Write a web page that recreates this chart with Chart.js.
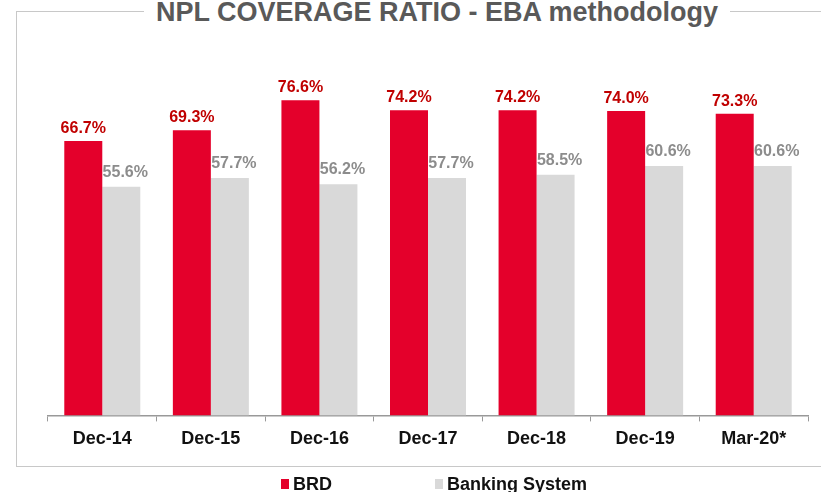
<!DOCTYPE html>
<html>
<head>
<meta charset="utf-8">
<script src="https://cdn.jsdelivr.net/npm/chart.js@4.4.1/dist/chart.umd.min.js"></script>
<style>
  html, body { margin: 0; padding: 0; background: #fff; }
  .wrap { position: relative; width: 821px; height: 492px; overflow: hidden; font-family: Arial, "Liberation Sans", sans-serif; }
  .frame { position: absolute; left: 16px; top: 11px; width: 830px; height: 456px; border: 1.5px solid #c8c8c8; box-sizing: border-box; }
  .title { position: absolute; top: -4px; left: 0; width: 874px; text-align: center; line-height: 32px; }
  .title span { background: #fff; padding: 0 12px; font-size: 27px; font-weight: bold; color: #595959; }
  canvas { position: absolute; left: 0; top: 0; }
  .legend { position: absolute; top: 474px; left: 281px; font-size: 18px; font-weight: bold; color: #111; display: flex; line-height: 20px; }
  .legend .item { display: flex; align-items: center; }
  .legend .box { width: 8px; height: 10px; margin-right: 4px; }
</style>
</head>
<body>
<div class="wrap">
  <div class="frame"></div>
  <canvas id="chartNpl" width="821" height="492"></canvas>
  <div class="title"><span>NPL COVERAGE RATIO - EBA methodology</span></div>
  <div class="legend">
    <div class="item" style="margin-right:103px"><div class="box" style="background:#e4002b"></div>BRD</div>
    <div class="item"><div class="box" style="background:#d9d9d9"></div>Banking System</div>
  </div>
</div>
<script>
// 카테고리 / 시리즈
const periods = ['Dec-14', 'Dec-15', 'Dec-16', 'Dec-17', 'Dec-18', 'Dec-19', 'Mar-20*'];
const brdValues = [66.7, 69.3, 76.6, 74.2, 74.2, 74.0, 73.3];
const bankingValues = [55.6, 57.7, 56.2, 57.7, 58.5, 60.6, 60.6];

// 값 라벨 그리기
const valueLabels = {
    id: 'valueLabels',
    afterDatasetsDraw(chart) {
        const ctx = chart.ctx;
        const colors = ['#c00000', '#8c8c8c'];
        chart.data.datasets.forEach((ds, i) => {
            const meta = chart.getDatasetMeta(i);
            meta.data.forEach((bar, j) => {
                ctx.save();
                ctx.font = 'bold 16px Arial, "Liberation Sans", sans-serif';
                ctx.fillStyle = colors[i];
                ctx.textAlign = 'center';
                ctx.textBaseline = 'alphabetic';
                ctx.fillText(ds.data[j].toFixed(1) + '%', bar.x + (i === 1 ? 4 : 0), bar.y - (i === 1 ? 10 : 8));
                ctx.restore();
            });
        });
    }
};

const ctx = document.getElementById('chartNpl');
new Chart(ctx, {
    type: 'bar',
    data: {
        labels: periods,
        datasets: [
            {
                label: 'BRD',
                data: brdValues,
                backgroundColor: '#e4002b',
                categoryPercentage: 0.7,
                barPercentage: 1.0
            },
            {
                label: 'Banking System',
                data: bankingValues,
                backgroundColor: '#d9d9d9',
                categoryPercentage: 0.7,
                barPercentage: 1.0
            }
        ]
    },
    options: {
        responsive: false,
        animation: false,
        layout: { padding: { left: 48, right: 13, top: 4, bottom: 35 } },
        plugins: {
            legend: { display: false },
            tooltip: { enabled: false }
        },
        scales: {
            y: { display: false, min: 0, max: 100 },
            x: {
                grid: { drawOnChartArea: false, tickLength: 6, color: '#999', offset: true },
                border: { color: '#999', width: 1.5 },
                ticks: { color: '#111', padding: 7, font: { family: 'Arial, "Liberation Sans", sans-serif', size: 18, weight: 'bold' } }
            }
        }
    },
    plugins: [valueLabels]
});
</script>
</body>
</html>
